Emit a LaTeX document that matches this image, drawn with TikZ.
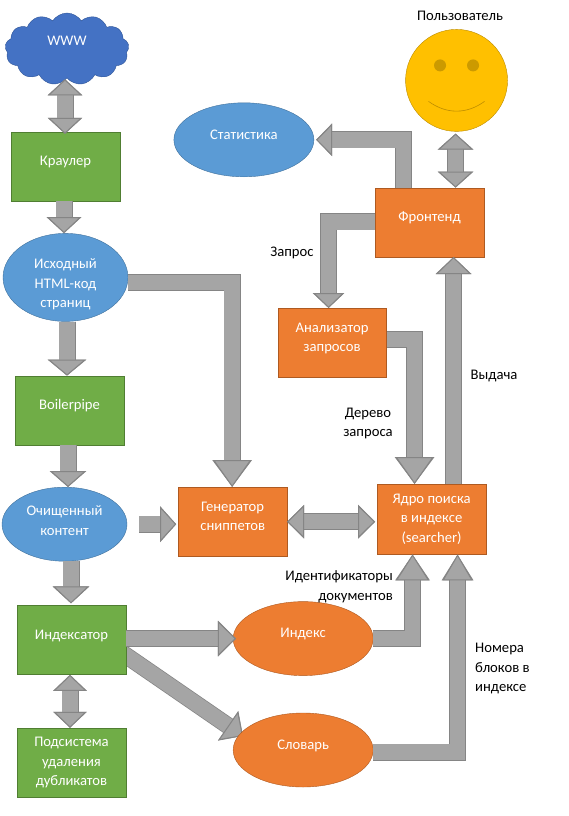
\documentclass[tikz,border=0pt]{standalone}
\usepackage{fontspec}
\setmainfont{Carlito}
\usetikzlibrary{arrows.meta,positioning,shapes.geometric,shapes.symbols,backgrounds}
\definecolor{arrowFill}{HTML}{A5A5A5}
\definecolor{arrowEdge}{HTML}{858585}
\definecolor{greenFill}{HTML}{70AD47}
\definecolor{greenEdge}{HTML}{507E32}
\definecolor{orangeFill}{HTML}{ED7D31}
\definecolor{orangeEdge}{HTML}{AE5A21}
\definecolor{blueFill}{HTML}{5B9BD5}
\definecolor{blueEdge}{HTML}{41719C}
\definecolor{cloudFill}{HTML}{4472C4}
\definecolor{cloudEdge}{HTML}{2F5597}
\definecolor{smileFill}{HTML}{FFC000}
\definecolor{smileEdge}{HTML}{BC8C00}
\definecolor{eyeFill}{HTML}{CC9A00}
\tikzset{
  basefont/.style={font=\fontsize{14.65}{19.5}\selectfont, align=center},
  greenbox/.style={basefont, draw=greenEdge, fill=greenFill, text=white,
    minimum width=108.5pt, minimum height=69pt, inner sep=0pt},
  orangebox/.style={basefont, draw=orangeEdge, fill=orangeFill, text=white,
    minimum width=108.5pt, minimum height=69pt, inner sep=0pt},
  blueoval/.style={basefont, ellipse, draw=blueEdge, fill=blueFill, text=white, inner sep=0pt},
  orangeoval/.style={basefont, ellipse, draw=orangeEdge, fill=orangeFill, text=white,
    minimum width=140pt, minimum height=74pt, inner sep=0pt},
  lifted/.style={text depth=11pt},
  notetext/.style={basefont, text=black, inner sep=0pt},
  blockArc/.style 2 args={-{Triangle[length=#1,width=#2,fill=arrowFill,color=arrowEdge,line width=1pt]},
    line width=15.5pt, draw=arrowFill, line join=miter,
    preaction={draw=arrowEdge, line width=17pt, -{Triangle[length=#1,width=#2,color=arrowEdge]}}},
  blockBoth/.style 2 args={{Triangle[length=#1,width=#2,fill=arrowFill,color=arrowEdge,line width=1pt]}-{Triangle[length=#1,width=#2,fill=arrowFill,color=arrowEdge,line width=1pt]},
    line width=15.5pt, draw=arrowFill,
    preaction={draw=arrowEdge, line width=17pt, {Triangle[length=#1,width=#2,color=arrowEdge]}-{Triangle[length=#1,width=#2,color=arrowEdge]}}},
}
\begin{document}
\begin{tikzpicture}[x=1pt,y=1pt]
    \useasboundingbox (0,0) rectangle (568,-816);
    % left column
    \node[basefont, cloud, cloud puffs=13, cloud puff arc=115, cloud ignores aspect, draw=cloudEdge, fill=cloudFill,
      text=white, minimum width=124pt, minimum height=72pt, inner sep=0pt, text depth=16pt] (www) at (67,-49) {WWW};
    \node[greenbox, lifted] (crawler) at (65.5,-166.5) {Краулер};
    \node[blueoval, minimum width=125pt, minimum height=88pt, inner ysep=-16pt, below=32pt of crawler] (source)
      {\rule{0pt}{24pt}Исходный\\HTML-код\\страниц};
    \node[greenbox, lifted, below=54pt of source, xshift=4pt] (boiler) {Boilerpipe};
    \node[blueoval, text depth=7pt, minimum width=125pt, minimum height=74pt, below=42pt of boiler, xshift=-5pt] (clean)
      {Очищенный\\контент};
    \node[greenbox, lifted, below=44pt of clean, xshift=7pt] (indexer) {Индексатор};
    \node[greenbox, below=53pt of indexer] (dedup) {Подсистема\\удаления\\дубликатов};
    % middle and right
    \node[orangebox, lifted, right=51pt of clean, yshift=2.5pt] (snippets) {Генератор\\сниппетов};
    \node[orangebox, right=90pt of snippets, yshift=2.5pt, minimum height=70pt] (searcher) {Ядро поиска\\в индексе\\(searcher)};
    \node[orangebox, lifted, above=227pt of searcher, xshift=-2pt] (frontend) {Фронтенд};
    \node[orangebox, lifted, below=51pt of frontend, xshift=-97.5pt] (parser) {Анализатор\\запросов};
    \node[blueoval, lifted, minimum width=140pt, minimum height=74pt, left=61pt of frontend, yshift=82.5pt] (stats) {Статистика};
    \node[orangeoval, lifted, below=45pt of snippets, xshift=70.5pt] (index) {Индекс};
    \node[orangeoval, lifted, below=37pt of index] (dict) {Словарь};
    % smiley
    \node[circle, draw=smileEdge, fill=smileFill, minimum size=102pt, inner sep=0pt,
      above=56pt of frontend, xshift=27pt] (user) {};
    \node[circle, fill=eyeFill, minimum size=12pt, inner sep=0pt, xshift=-16.5pt, yshift=15pt] (eyeL) at (user.center) {};
    \node[circle, fill=eyeFill, minimum size=12pt, inner sep=0pt, xshift=16.5pt, yshift=15pt] (eyeR) at (user.center) {};
    \coordinate (smileL) at ([shift={(-28pt,-21pt)}]user.center);
    \coordinate (smileR) at ([shift={(28pt,-21pt)}]user.center);
    \draw[smileEdge, semithick] (smileL) .. controls ([shift={(18pt,-13pt)}]smileL) and ([shift={(-18pt,-13pt)}]smileR) .. (smileR);
    \node[notetext] (userText) at (460,-16) {Пользователь};
    % labels
    \node[notetext] (queryText) at (292,-253) {Запрос};
    \node[notetext] (treeText) at (368,-423.5) {Дерево\\запроса};
    \node[notetext] (resultText) at (494,-376) {Выдача};
    \node[notetext, align=right, anchor=east] (idsText) at (393,-586.5) {Идентификаторы\\документов};
    \node[notetext, align=left, anchor=west] (blocksText) at (475,-668.5) {Номера\\блоков в\\индексе};
    % connectors
    \draw[blockBoth={16pt}{34pt}] ([xshift=-0.5pt,yshift=-1pt]www.south -| crawler.north) -- ([xshift=-0.5pt,yshift=-2pt]crawler.north);
    \draw[blockArc={16pt}{34pt}] ([xshift=-1.5pt]crawler.south) -- ([xshift=-1.5pt]source.north);
    \draw[blockArc={16pt}{38pt}] ([xshift=1.5pt]source.south) -- ([xshift=-2.5pt]boiler.north);
    \draw[blockArc={16pt}{36pt}] ([xshift=-1.5pt]boiler.south) -- ([xshift=3.5pt]clean.north);
    \draw[blockArc={17pt}{36pt}] ([xshift=6.5pt]clean.south) -- ([xshift=-0.5pt,yshift=2pt]indexer.north);
    \draw[blockBoth={16pt}{33pt}] ([xshift=-1.5pt]indexer.south) -- ([xshift=-1.5pt]dedup.north);
    \draw[blockArc={27pt}{38pt}] ([yshift=-5pt]source.east) -| ([xshift=-0.5pt]snippets.north);
    \draw[blockArc={16pt}{35pt}] ([xshift=12pt]clean.east) -- ([xshift=-2pt,yshift=-2.5pt]snippets.west);
    \draw[blockBoth={17pt}{33pt}] (snippets.east) -- ([xshift=-2pt,yshift=-2.5pt]searcher.west);
    \draw[blockArc={18pt}{35pt}] ([yshift=1.5pt]indexer.east) -- ([xshift=3pt]index.west);
    \begin{scope}[on background layer]
      \draw[blockArc={18pt}{35pt}] ([xshift=-10pt,yshift=-8.5pt]indexer.east) -- ([shift={(10pt,14pt)}]dict.west);
    \end{scope}
    \draw[blockArc={26pt}{33pt}] (index.east) -| ([xshift=-19pt]searcher.south);
    \draw[blockArc={26pt}{30pt}] ([yshift=-2pt]dict.east) -| ([xshift=26pt]searcher.south);
    \draw[blockArc={17pt}{35pt}] ([xshift=22pt]searcher.north) -- ([xshift=24pt]frontend.south);
    \draw[blockArc={27pt}{38pt}] ([yshift=3pt]parser.east) -| ([xshift=-17pt]searcher.north);
    \draw[blockArc={15pt}{31pt}] ([yshift=0.5pt]frontend.west) -| ([xshift=-3.5pt]parser.north);
    \draw[blockArc={16pt}{32pt}] ([xshift=-26pt]frontend.north) |- ([xshift=2pt]stats.east);
    \draw[blockBoth={16pt}{35pt}] ([xshift=-1pt,yshift=-2pt]user.south) -- ([xshift=26pt]frontend.north);
  \end{tikzpicture}
\end{document}
